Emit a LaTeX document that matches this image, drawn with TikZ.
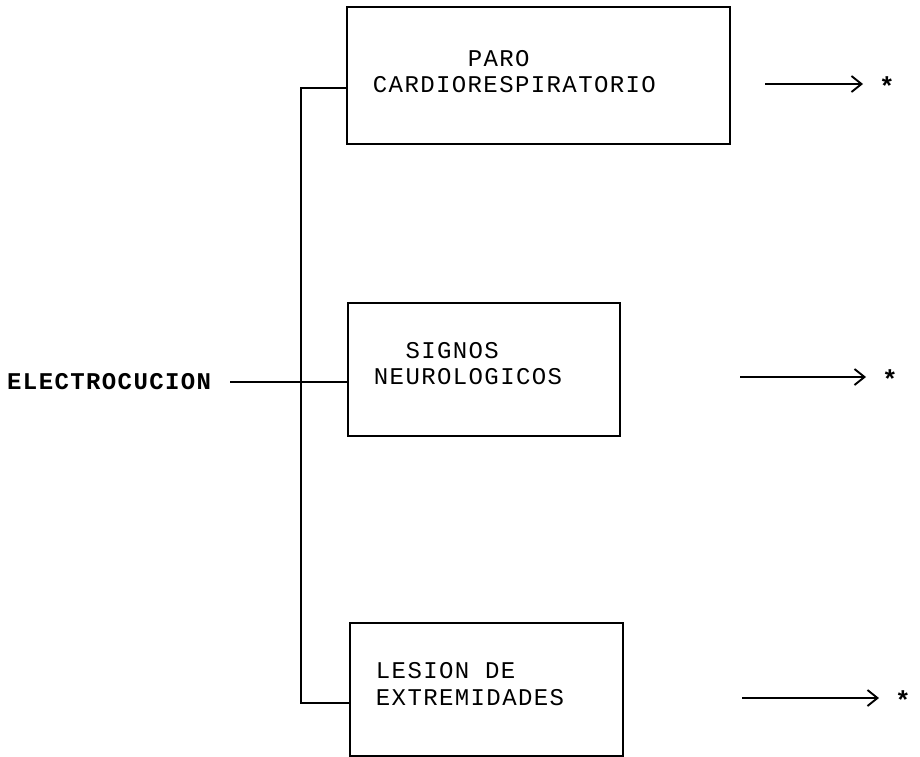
\documentclass[tikz,border=0pt]{standalone}
\usepackage{fontspec}
\setmonofont{Liberation Mono}
\usetikzlibrary{arrows.meta}
\newcommand{\gapch}[1][1]{\hspace*{#1\dimexpr 15.8pt\relax}}
\begin{document}
\begin{tikzpicture}[x=1pt,y=-1pt,
  lbl/.style={font=\ttfamily\fontsize{24}{26.5}\selectfont\addfontfeature{LetterSpace=5.8}},
  boldlbl/.style={font=\ttfamily\bfseries\fontsize{24}{26.5}\selectfont\addfontfeature{LetterSpace=5.8}},
  boxnode/.style={draw=black, line width=1.9pt, anchor=north west, inner xsep=26pt, inner ysep=0pt, align=left, lbl},
  conn/.style={draw=black, line width=1.7pt},
  outarrow/.style={draw=black, line width=1.9pt, -{Straight Barb[length=10pt,width=16pt,line width=1.9pt]}, shorten >=24pt},
  star/.style={font=\ttfamily\bfseries\fontsize{26}{28}\selectfont, inner sep=0pt}
]
\useasboundingbox (0,0) rectangle (920,756);

% boxes
\node[boxnode, minimum width=383pt, minimum height=137pt, text width=331pt, text depth=34pt] (pbox) at (346,6)
  {\gapch[6]PARO\\CARDIORESPIRATORIO};
\node[boxnode, minimum width=272pt, minimum height=133pt, text width=220pt, text depth=38pt] (mbox) at (347,302)
  {\gapch[2]SIGNOS\\NEUROLOGICOS};
\node[boxnode, minimum width=273pt, minimum height=133pt, text width=221pt, text depth=37pt] (lbox) at (349,622)
  {LESION\gapch DE\\EXTREMIDADES};

% source
\node[boldlbl, anchor=west, inner sep=0pt] (elec) at (7,382) {ELECTROCUCION};

% spine
\coordinate (ttop) at (301,88);
\coordinate (tbot) at (301,703);
\draw[conn] (pbox.west |- ttop) -- (ttop) -- (tbot) -- (lbox.west |- tbot);
\draw[conn] (230,0 |- elec.east) -- (elec.east -| mbox.west);

% outgoing arrows
\node[star] (s1) at (887,86) {*};
\node[star] (s2) at (890,379) {*};
\node[star] (s3) at (903,700) {*};
\coordinate (a1) at (765,84);
\coordinate (a2) at (740,377);
\coordinate (a3) at (742,698);
\draw[outarrow] (a1) -- (a1 -| s1.center);
\draw[outarrow] (a2) -- (a2 -| s2.center);
\draw[outarrow] (a3) -- (a3 -| s3.center);
\end{tikzpicture}
\end{document}
